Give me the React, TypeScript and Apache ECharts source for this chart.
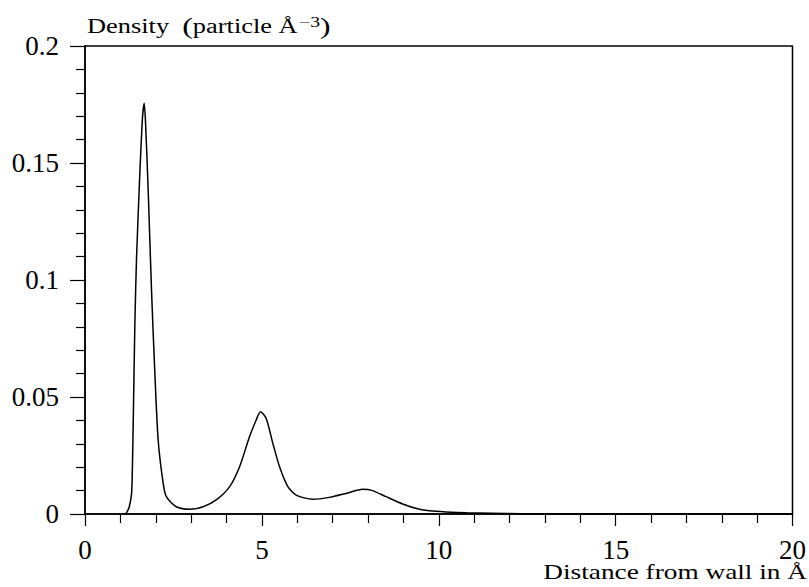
import React, { useEffect, useRef } from "react";
import * as echarts from "echarts";

// Density profile: distance from the wall (Å) and particle density (particle Å^-3)
const distance: number[] = [
  1.15, 1.2, 1.25, 1.317, 1.34, 1.363, 1.41, 1.458, 1.55, 1.627, 1.674, 1.712,
  1.786, 1.88, 1.975, 2.068, 2.21, 2.3, 2.58, 2.96, 3.34, 3.71, 4.09, 4.37, 4.65,
  4.84, 4.96, 5.12, 5.31, 5.5, 5.735, 5.97, 6.44, 6.91, 7.38, 7.85, 8.13, 8.51,
  8.98, 9.45, 9.73, 10.2, 10.8, 11.5, 12.3, 13, 20,
];
const density: number[] = [
  0, 0.0012, 0.003, 0.0088, 0.02, 0.0388, 0.0815, 0.11, 0.1456, 0.1698, 0.1755,
  0.167, 0.1385, 0.0957, 0.0601, 0.0316, 0.0131, 0.0074, 0.0031, 0.002, 0.0031,
  0.006, 0.0117, 0.0202, 0.033, 0.0402, 0.0437, 0.0409, 0.0302, 0.0202, 0.0117,
  0.0081, 0.0063, 0.0071, 0.0088, 0.0106, 0.01, 0.0074, 0.0043, 0.002, 0.0014,
  0.0009, 0.0005, 0.0003, 0.0001, 0, 0,
];

const xTickLabels: string[] = ["0", "5", "10", "15", "20"];
const yTickLabels: string[] = ["0", "0.05", "0.1", "0.15", "0.2"];

const FONT = "'Liberation Serif', 'Times New Roman', serif";

export default function App() {
  const ref = useRef<HTMLDivElement>(null);

  useEffect(() => {
    if (!ref.current) return;
    const chart = echarts.init(ref.current, null, { renderer: "svg" });
    const points = distance.map((d, i) => [d, density[i]]);

    chart.setOption({
      animation: false,
      backgroundColor: "#fff",
      grid: {
        left: 85,
        top: 46,
        width: 709,
        height: 468,
        show: true,
        borderColor: "#000",
        borderWidth: 1.5,
        backgroundColor: "transparent",
      },
      xAxis: {
        type: "value",
        min: 0,
        max: 20,
        interval: 5,
        axisLine: { show: true, lineStyle: { color: "#000", width: 1.5 } },
        axisTick: { show: true, length: 12, lineStyle: { color: "#000", width: 1.2 } },
        minorTick: { show: true, splitNumber: 5, length: 9, lineStyle: { color: "#000", width: 1.2 } },
        splitLine: { show: false },
        axisLabel: {
          margin: 22,
          color: "#000",
          fontFamily: FONT,
          fontSize: 27,
          formatter: (_v: number, i: number) => xTickLabels[i] ?? "",
        },
      },
      yAxis: {
        type: "value",
        min: 0,
        max: 0.2,
        interval: 0.05,
        axisLine: { show: true, lineStyle: { color: "#000", width: 1.5 } },
        axisTick: { show: true, length: 15, lineStyle: { color: "#000", width: 1.2 } },
        minorTick: { show: true, splitNumber: 5, length: 9, lineStyle: { color: "#000", width: 1.2 } },
        splitLine: { show: false },
        axisLabel: {
          margin: 26,
          color: "#000",
          fontFamily: FONT,
          fontSize: 27,
          formatter: (_v: number, i: number) => yTickLabels[i] ?? "",
        },
      },
      graphic: [
        {
          type: "text",
          x: 87,
          y: 14,
          scaleX: 1.32,
          style: {
            text: "Density  {p|(}particle Å{s|−3}{p|)}",
            font: `20px ${FONT}`,
            fill: "#000",
            verticalAlign: "top",
            rich: {
              p: { fontSize: 24, fontFamily: FONT, fill: "#000" },
              s: { fontSize: 15, fontFamily: FONT, fill: "#000", verticalAlign: "top", padding: [0, 0, 8, 1] },
            },
          },
        },
        {
          type: "text",
          x: 807,
          y: 561,
          scaleX: 1.3,
          style: {
            text: "Distance from wall in Å",
            font: `21px ${FONT}`,
            fill: "#000",
            align: "right",
            verticalAlign: "top",
          },
        },
      ],
      series: [
        {
          type: "line",
          data: points,
          showSymbol: false,
          smooth: 0.25,
          lineStyle: { color: "#000", width: 1.5 },
        },
      ],
    });

    return () => chart.dispose();
  }, []);

  return (
    <div
      ref={ref}
      style={{ position: "absolute", left: 0, top: 0, width: 809, height: 587 }}
    />
  );
}
